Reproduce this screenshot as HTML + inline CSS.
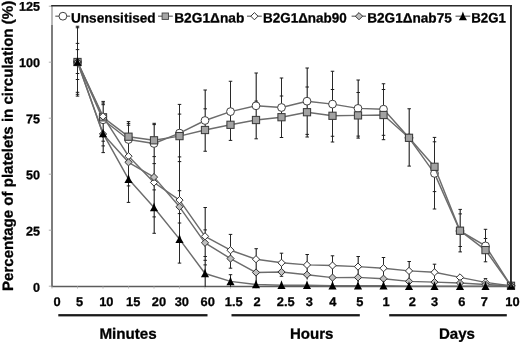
<!DOCTYPE html>
<html><head><meta charset="utf-8"><title>chart</title>
<style>
html,body{margin:0;padding:0;background:#fff;}
body{width:520px;height:344px;overflow:hidden;}
svg{display:block;}
text{font-family:"Liberation Sans",sans-serif;font-weight:bold;fill:#000;stroke:#000;stroke-width:0.3px;stroke-linejoin:round;}
</style></head><body>
<svg width="520" height="344" viewBox="0 0 520 344">
<rect width="520" height="344" fill="#fff"/>
<line x1="52" y1="25" x2="52" y2="287" stroke="#5c5c5c" stroke-width="1.6"/>
<line x1="52" y1="5.5" x2="52" y2="25" stroke="#8a8a8a" stroke-width="1.2"/>
<line x1="51.2" y1="286.5" x2="511" y2="286.5" stroke="#5c5c5c" stroke-width="1.3"/>
<line x1="48.8" y1="286.2" x2="52" y2="286.2" stroke="#9a9a9a" stroke-width="0.8"/>
<line x1="48.8" y1="230.2" x2="52" y2="230.2" stroke="#9a9a9a" stroke-width="0.8"/>
<line x1="48.8" y1="174.2" x2="52" y2="174.2" stroke="#9a9a9a" stroke-width="0.8"/>
<line x1="48.8" y1="118.19999999999999" x2="52" y2="118.19999999999999" stroke="#9a9a9a" stroke-width="0.8"/>
<line x1="48.8" y1="62.19999999999999" x2="52" y2="62.19999999999999" stroke="#9a9a9a" stroke-width="0.8"/>
<line x1="48.8" y1="6.199999999999989" x2="52" y2="6.199999999999989" stroke="#9a9a9a" stroke-width="0.8"/>
<line x1="52.0" y1="286.3" x2="52.0" y2="288.6" stroke="#b0b0b0" stroke-width="0.8"/>
<line x1="77.5" y1="286.3" x2="77.5" y2="288.6" stroke="#b0b0b0" stroke-width="0.8"/>
<line x1="103.0" y1="286.3" x2="103.0" y2="288.6" stroke="#b0b0b0" stroke-width="0.8"/>
<line x1="128.5" y1="286.3" x2="128.5" y2="288.6" stroke="#b0b0b0" stroke-width="0.8"/>
<line x1="154.0" y1="286.3" x2="154.0" y2="288.6" stroke="#b0b0b0" stroke-width="0.8"/>
<line x1="179.5" y1="286.3" x2="179.5" y2="288.6" stroke="#b0b0b0" stroke-width="0.8"/>
<line x1="205.0" y1="286.3" x2="205.0" y2="288.6" stroke="#b0b0b0" stroke-width="0.8"/>
<line x1="230.5" y1="286.3" x2="230.5" y2="288.6" stroke="#b0b0b0" stroke-width="0.8"/>
<line x1="256.0" y1="286.3" x2="256.0" y2="288.6" stroke="#b0b0b0" stroke-width="0.8"/>
<line x1="281.5" y1="286.3" x2="281.5" y2="288.6" stroke="#b0b0b0" stroke-width="0.8"/>
<line x1="307.0" y1="286.3" x2="307.0" y2="288.6" stroke="#b0b0b0" stroke-width="0.8"/>
<line x1="332.5" y1="286.3" x2="332.5" y2="288.6" stroke="#b0b0b0" stroke-width="0.8"/>
<line x1="358.0" y1="286.3" x2="358.0" y2="288.6" stroke="#b0b0b0" stroke-width="0.8"/>
<line x1="383.5" y1="286.3" x2="383.5" y2="288.6" stroke="#b0b0b0" stroke-width="0.8"/>
<line x1="409.0" y1="286.3" x2="409.0" y2="288.6" stroke="#b0b0b0" stroke-width="0.8"/>
<line x1="434.5" y1="286.3" x2="434.5" y2="288.6" stroke="#b0b0b0" stroke-width="0.8"/>
<line x1="460.0" y1="286.3" x2="460.0" y2="288.6" stroke="#b0b0b0" stroke-width="0.8"/>
<line x1="485.5" y1="286.3" x2="485.5" y2="288.6" stroke="#b0b0b0" stroke-width="0.8"/>
<line x1="511.0" y1="286.3" x2="511.0" y2="288.6" stroke="#b0b0b0" stroke-width="0.8"/>
<line x1="77.50" y1="26.25" x2="77.50" y2="96.2" stroke="#1c1c1c" stroke-width="0.95"/>
<line x1="75.75" y1="26.25" x2="79.25" y2="26.25" stroke="#1c1c1c" stroke-width="1.0"/>
<line x1="75.75" y1="27.75" x2="79.25" y2="27.75" stroke="#1c1c1c" stroke-width="1.0"/>
<line x1="75.75" y1="43.4" x2="79.25" y2="43.4" stroke="#1c1c1c" stroke-width="1.0"/>
<line x1="75.75" y1="49.6" x2="79.25" y2="49.6" stroke="#1c1c1c" stroke-width="1.0"/>
<line x1="75.75" y1="73.5" x2="79.25" y2="73.5" stroke="#1c1c1c" stroke-width="1.0"/>
<line x1="75.75" y1="79.5" x2="79.25" y2="79.5" stroke="#1c1c1c" stroke-width="1.0"/>
<line x1="75.75" y1="92.3" x2="79.25" y2="92.3" stroke="#1c1c1c" stroke-width="1.0"/>
<line x1="75.75" y1="94.3" x2="79.25" y2="94.3" stroke="#1c1c1c" stroke-width="1.0"/>
<line x1="75.75" y1="96.1" x2="79.25" y2="96.1" stroke="#1c1c1c" stroke-width="1.0"/>
<line x1="103.20" y1="101.4" x2="103.20" y2="152.8" stroke="#1c1c1c" stroke-width="1.1"/>
<line x1="101.45" y1="101.4" x2="104.95" y2="101.4" stroke="#1c1c1c" stroke-width="1.0"/>
<line x1="101.45" y1="103.0" x2="104.95" y2="103.0" stroke="#1c1c1c" stroke-width="1.0"/>
<line x1="101.45" y1="104.7" x2="104.95" y2="104.7" stroke="#1c1c1c" stroke-width="1.0"/>
<line x1="101.45" y1="141.2" x2="104.95" y2="141.2" stroke="#1c1c1c" stroke-width="1.0"/>
<line x1="101.45" y1="145.9" x2="104.95" y2="145.9" stroke="#1c1c1c" stroke-width="1.0"/>
<line x1="101.45" y1="152.6" x2="104.95" y2="152.6" stroke="#1c1c1c" stroke-width="1.0"/>
<line x1="128.50" y1="121.6" x2="128.50" y2="202.4" stroke="#1c1c1c" stroke-width="0.95"/>
<line x1="126.75" y1="121.6" x2="130.25" y2="121.6" stroke="#1c1c1c" stroke-width="1.0"/>
<line x1="126.75" y1="123.4" x2="130.25" y2="123.4" stroke="#1c1c1c" stroke-width="1.0"/>
<line x1="126.75" y1="125.2" x2="130.25" y2="125.2" stroke="#1c1c1c" stroke-width="1.0"/>
<line x1="126.75" y1="185.9" x2="130.25" y2="185.9" stroke="#1c1c1c" stroke-width="1.0"/>
<line x1="126.75" y1="202.4" x2="130.25" y2="202.4" stroke="#1c1c1c" stroke-width="1.0"/>
<line x1="154.20" y1="123.3" x2="154.20" y2="233.3" stroke="#1c1c1c" stroke-width="1.1"/>
<line x1="152.45" y1="123.3" x2="155.95" y2="123.3" stroke="#1c1c1c" stroke-width="1.0"/>
<line x1="152.45" y1="124.6" x2="155.95" y2="124.6" stroke="#1c1c1c" stroke-width="1.0"/>
<line x1="152.45" y1="156.6" x2="155.95" y2="156.6" stroke="#1c1c1c" stroke-width="1.0"/>
<line x1="152.45" y1="163.6" x2="155.95" y2="163.6" stroke="#1c1c1c" stroke-width="1.0"/>
<line x1="152.45" y1="189.9" x2="155.95" y2="189.9" stroke="#1c1c1c" stroke-width="1.0"/>
<line x1="152.45" y1="216.9" x2="155.95" y2="216.9" stroke="#1c1c1c" stroke-width="1.0"/>
<line x1="152.45" y1="233.3" x2="155.95" y2="233.3" stroke="#1c1c1c" stroke-width="1.0"/>
<line x1="179.50" y1="104.4" x2="179.50" y2="263.1" stroke="#1c1c1c" stroke-width="0.95"/>
<line x1="177.75" y1="104.4" x2="181.25" y2="104.4" stroke="#1c1c1c" stroke-width="1.0"/>
<line x1="177.75" y1="114.1" x2="181.25" y2="114.1" stroke="#1c1c1c" stroke-width="1.0"/>
<line x1="177.75" y1="156.9" x2="181.25" y2="156.9" stroke="#1c1c1c" stroke-width="1.0"/>
<line x1="177.75" y1="161.6" x2="181.25" y2="161.6" stroke="#1c1c1c" stroke-width="1.0"/>
<line x1="177.75" y1="190.7" x2="181.25" y2="190.7" stroke="#1c1c1c" stroke-width="1.0"/>
<line x1="177.75" y1="213.6" x2="181.25" y2="213.6" stroke="#1c1c1c" stroke-width="1.0"/>
<line x1="177.75" y1="223" x2="181.25" y2="223" stroke="#1c1c1c" stroke-width="1.0"/>
<line x1="177.75" y1="263.1" x2="181.25" y2="263.1" stroke="#1c1c1c" stroke-width="1.0"/>
<line x1="205.20" y1="90" x2="205.20" y2="151.25" stroke="#1c1c1c" stroke-width="1.1"/>
<line x1="203.45" y1="90" x2="206.95" y2="90" stroke="#1c1c1c" stroke-width="1.0"/>
<line x1="203.45" y1="108.8" x2="206.95" y2="108.8" stroke="#1c1c1c" stroke-width="1.0"/>
<line x1="203.45" y1="151.25" x2="206.95" y2="151.25" stroke="#1c1c1c" stroke-width="1.0"/>
<line x1="205.20" y1="207.5" x2="205.20" y2="287" stroke="#1c1c1c" stroke-width="1.1"/>
<line x1="203.45" y1="207.5" x2="206.95" y2="207.5" stroke="#1c1c1c" stroke-width="1.0"/>
<line x1="203.45" y1="229.9" x2="206.95" y2="229.9" stroke="#1c1c1c" stroke-width="1.0"/>
<line x1="203.45" y1="256.5" x2="206.95" y2="256.5" stroke="#1c1c1c" stroke-width="1.0"/>
<line x1="203.45" y1="260.3" x2="206.95" y2="260.3" stroke="#1c1c1c" stroke-width="1.0"/>
<line x1="203.45" y1="264.9" x2="206.95" y2="264.9" stroke="#1c1c1c" stroke-width="1.0"/>
<line x1="230.50" y1="81.25" x2="230.50" y2="140.4" stroke="#1c1c1c" stroke-width="0.95"/>
<line x1="228.75" y1="81.25" x2="232.25" y2="81.25" stroke="#1c1c1c" stroke-width="1.0"/>
<line x1="228.75" y1="140.4" x2="232.25" y2="140.4" stroke="#1c1c1c" stroke-width="1.0"/>
<line x1="230.50" y1="234.4" x2="230.50" y2="268.2" stroke="#1c1c1c" stroke-width="0.95"/>
<line x1="228.75" y1="234.4" x2="232.25" y2="234.4" stroke="#1c1c1c" stroke-width="1.0"/>
<line x1="228.75" y1="268.2" x2="232.25" y2="268.2" stroke="#1c1c1c" stroke-width="1.0"/>
<line x1="230.50" y1="274.7" x2="230.50" y2="287" stroke="#1c1c1c" stroke-width="0.95"/>
<line x1="228.75" y1="274.7" x2="232.25" y2="274.7" stroke="#1c1c1c" stroke-width="1.0"/>
<line x1="256.20" y1="73" x2="256.20" y2="138.8" stroke="#1c1c1c" stroke-width="1.1"/>
<line x1="254.45" y1="73" x2="257.95" y2="73" stroke="#1c1c1c" stroke-width="1.0"/>
<line x1="254.45" y1="101.1" x2="257.95" y2="101.1" stroke="#1c1c1c" stroke-width="1.0"/>
<line x1="254.45" y1="138.8" x2="257.95" y2="138.8" stroke="#1c1c1c" stroke-width="1.0"/>
<line x1="256.20" y1="248.7" x2="256.20" y2="286" stroke="#1c1c1c" stroke-width="1.1"/>
<line x1="254.45" y1="248.7" x2="257.95" y2="248.7" stroke="#1c1c1c" stroke-width="1.0"/>
<line x1="281.50" y1="78" x2="281.50" y2="137.5" stroke="#1c1c1c" stroke-width="0.95"/>
<line x1="279.75" y1="78" x2="283.25" y2="78" stroke="#1c1c1c" stroke-width="1.0"/>
<line x1="279.75" y1="96" x2="283.25" y2="96" stroke="#1c1c1c" stroke-width="1.0"/>
<line x1="279.75" y1="137.5" x2="283.25" y2="137.5" stroke="#1c1c1c" stroke-width="1.0"/>
<line x1="281.50" y1="253.2" x2="281.50" y2="276.3" stroke="#1c1c1c" stroke-width="0.95"/>
<line x1="279.75" y1="253.2" x2="283.25" y2="253.2" stroke="#1c1c1c" stroke-width="1.0"/>
<line x1="279.75" y1="276.3" x2="283.25" y2="276.3" stroke="#1c1c1c" stroke-width="1.0"/>
<line x1="307.20" y1="68" x2="307.20" y2="137" stroke="#1c1c1c" stroke-width="1.1"/>
<line x1="305.45" y1="68" x2="308.95" y2="68" stroke="#1c1c1c" stroke-width="1.0"/>
<line x1="305.45" y1="87" x2="308.95" y2="87" stroke="#1c1c1c" stroke-width="1.0"/>
<line x1="305.45" y1="134.4" x2="308.95" y2="134.4" stroke="#1c1c1c" stroke-width="1.0"/>
<line x1="305.45" y1="137" x2="308.95" y2="137" stroke="#1c1c1c" stroke-width="1.0"/>
<line x1="307.20" y1="254.5" x2="307.20" y2="279.5" stroke="#1c1c1c" stroke-width="1.1"/>
<line x1="305.45" y1="254.5" x2="308.95" y2="254.5" stroke="#1c1c1c" stroke-width="1.0"/>
<line x1="332.50" y1="71.25" x2="332.50" y2="142" stroke="#1c1c1c" stroke-width="0.95"/>
<line x1="330.75" y1="71.25" x2="334.25" y2="71.25" stroke="#1c1c1c" stroke-width="1.0"/>
<line x1="330.75" y1="89.5" x2="334.25" y2="89.5" stroke="#1c1c1c" stroke-width="1.0"/>
<line x1="330.75" y1="136.25" x2="334.25" y2="136.25" stroke="#1c1c1c" stroke-width="1.0"/>
<line x1="330.75" y1="142" x2="334.25" y2="142" stroke="#1c1c1c" stroke-width="1.0"/>
<line x1="332.50" y1="255.8" x2="332.50" y2="282" stroke="#1c1c1c" stroke-width="0.95"/>
<line x1="330.75" y1="255.8" x2="334.25" y2="255.8" stroke="#1c1c1c" stroke-width="1.0"/>
<line x1="358.20" y1="80" x2="358.20" y2="138.3" stroke="#1c1c1c" stroke-width="1.1"/>
<line x1="356.45" y1="80" x2="359.95" y2="80" stroke="#1c1c1c" stroke-width="1.0"/>
<line x1="356.45" y1="92.5" x2="359.95" y2="92.5" stroke="#1c1c1c" stroke-width="1.0"/>
<line x1="356.45" y1="136.1" x2="359.95" y2="136.1" stroke="#1c1c1c" stroke-width="1.0"/>
<line x1="356.45" y1="138.1" x2="359.95" y2="138.1" stroke="#1c1c1c" stroke-width="1.0"/>
<line x1="358.20" y1="256.5" x2="358.20" y2="282" stroke="#1c1c1c" stroke-width="1.1"/>
<line x1="356.45" y1="256.5" x2="359.95" y2="256.5" stroke="#1c1c1c" stroke-width="1.0"/>
<line x1="383.50" y1="83.75" x2="383.50" y2="139.8" stroke="#1c1c1c" stroke-width="0.95"/>
<line x1="381.75" y1="83.75" x2="385.25" y2="83.75" stroke="#1c1c1c" stroke-width="1.0"/>
<line x1="381.75" y1="89.5" x2="385.25" y2="89.5" stroke="#1c1c1c" stroke-width="1.0"/>
<line x1="381.75" y1="135.3" x2="385.25" y2="135.3" stroke="#1c1c1c" stroke-width="1.0"/>
<line x1="381.75" y1="139.7" x2="385.25" y2="139.7" stroke="#1c1c1c" stroke-width="1.0"/>
<line x1="383.50" y1="257.5" x2="383.50" y2="283" stroke="#1c1c1c" stroke-width="0.95"/>
<line x1="381.75" y1="257.5" x2="385.25" y2="257.5" stroke="#1c1c1c" stroke-width="1.0"/>
<line x1="409.20" y1="108.75" x2="409.20" y2="166.1" stroke="#1c1c1c" stroke-width="1.1"/>
<line x1="407.45" y1="108.75" x2="410.95" y2="108.75" stroke="#1c1c1c" stroke-width="1.0"/>
<line x1="407.45" y1="166.1" x2="410.95" y2="166.1" stroke="#1c1c1c" stroke-width="1.0"/>
<line x1="409.20" y1="261.5" x2="409.20" y2="283" stroke="#1c1c1c" stroke-width="1.1"/>
<line x1="407.45" y1="261.5" x2="410.95" y2="261.5" stroke="#1c1c1c" stroke-width="1.0"/>
<line x1="434.50" y1="137.4" x2="434.50" y2="209" stroke="#1c1c1c" stroke-width="0.95"/>
<line x1="432.75" y1="137.4" x2="436.25" y2="137.4" stroke="#1c1c1c" stroke-width="1.0"/>
<line x1="432.75" y1="141.8" x2="436.25" y2="141.8" stroke="#1c1c1c" stroke-width="1.0"/>
<line x1="432.75" y1="191.6" x2="436.25" y2="191.6" stroke="#1c1c1c" stroke-width="1.0"/>
<line x1="432.75" y1="209" x2="436.25" y2="209" stroke="#1c1c1c" stroke-width="1.0"/>
<line x1="434.50" y1="264.2" x2="434.50" y2="283" stroke="#1c1c1c" stroke-width="0.95"/>
<line x1="432.75" y1="264.2" x2="436.25" y2="264.2" stroke="#1c1c1c" stroke-width="1.0"/>
<line x1="460.20" y1="209.4" x2="460.20" y2="251.9" stroke="#1c1c1c" stroke-width="1.1"/>
<line x1="458.45" y1="209.4" x2="461.95" y2="209.4" stroke="#1c1c1c" stroke-width="1.0"/>
<line x1="458.45" y1="213.9" x2="461.95" y2="213.9" stroke="#1c1c1c" stroke-width="1.0"/>
<line x1="458.45" y1="246.5" x2="461.95" y2="246.5" stroke="#1c1c1c" stroke-width="1.0"/>
<line x1="458.45" y1="251.9" x2="461.95" y2="251.9" stroke="#1c1c1c" stroke-width="1.0"/>
<line x1="485.50" y1="229.3" x2="485.50" y2="261.8" stroke="#1c1c1c" stroke-width="0.95"/>
<line x1="483.75" y1="229.3" x2="487.25" y2="229.3" stroke="#1c1c1c" stroke-width="1.0"/>
<line x1="483.75" y1="238.5" x2="487.25" y2="238.5" stroke="#1c1c1c" stroke-width="1.0"/>
<line x1="483.75" y1="261.8" x2="487.25" y2="261.8" stroke="#1c1c1c" stroke-width="1.0"/>
<line x1="485.50" y1="278.6" x2="485.50" y2="284" stroke="#1c1c1c" stroke-width="0.95"/>
<line x1="483.75" y1="278.6" x2="487.25" y2="278.6" stroke="#1c1c1c" stroke-width="1.0"/>
<polyline points="77.50,62.00 103.00,119.80 128.50,139.50 154.00,143.50 179.50,133.10 205.00,120.50 230.50,111.60 256.00,105.80 281.50,107.50 307.00,101.20 332.50,104.10 358.00,108.40 383.50,109.20 409.00,137.80 434.50,173.40 460.00,231.00 485.50,245.90 511.00,285.80" fill="none" stroke="#6c6c6c" stroke-width="1.45" stroke-linejoin="round"/>
<circle cx="77.50" cy="62.00" r="3.9" fill="#fff" stroke="#404040" stroke-width="1"/>
<circle cx="103.00" cy="119.80" r="3.9" fill="#fff" stroke="#404040" stroke-width="1"/>
<circle cx="128.50" cy="139.50" r="3.9" fill="#fff" stroke="#404040" stroke-width="1"/>
<circle cx="154.00" cy="143.50" r="3.9" fill="#fff" stroke="#404040" stroke-width="1"/>
<circle cx="179.50" cy="133.10" r="3.9" fill="#fff" stroke="#404040" stroke-width="1"/>
<circle cx="205.00" cy="120.50" r="3.9" fill="#fff" stroke="#404040" stroke-width="1"/>
<circle cx="230.50" cy="111.60" r="3.9" fill="#fff" stroke="#404040" stroke-width="1"/>
<circle cx="256.00" cy="105.80" r="3.9" fill="#fff" stroke="#404040" stroke-width="1"/>
<circle cx="281.50" cy="107.50" r="3.9" fill="#fff" stroke="#404040" stroke-width="1"/>
<circle cx="307.00" cy="101.20" r="3.9" fill="#fff" stroke="#404040" stroke-width="1"/>
<circle cx="332.50" cy="104.10" r="3.9" fill="#fff" stroke="#404040" stroke-width="1"/>
<circle cx="358.00" cy="108.40" r="3.9" fill="#fff" stroke="#404040" stroke-width="1"/>
<circle cx="383.50" cy="109.20" r="3.9" fill="#fff" stroke="#404040" stroke-width="1"/>
<circle cx="409.00" cy="137.80" r="3.9" fill="#fff" stroke="#404040" stroke-width="1"/>
<circle cx="434.50" cy="173.40" r="3.9" fill="#fff" stroke="#404040" stroke-width="1"/>
<circle cx="460.00" cy="231.00" r="3.9" fill="#fff" stroke="#404040" stroke-width="1"/>
<circle cx="485.50" cy="245.90" r="3.9" fill="#fff" stroke="#404040" stroke-width="1"/>
<circle cx="511.00" cy="285.80" r="3.9" fill="#fff" stroke="#404040" stroke-width="1"/>
<polyline points="77.50,62.00 103.00,117.30 128.50,136.70 154.00,140.30 179.50,136.10 205.00,130.00 230.50,124.80 256.00,120.00 281.50,117.20 307.00,112.20 332.50,115.80 358.00,115.40 383.50,115.00 409.00,137.80 434.50,166.80 460.00,230.70 485.50,250.10 511.00,285.80" fill="none" stroke="#6c6c6c" stroke-width="1.45" stroke-linejoin="round"/>
<rect x="73.90" y="58.40" width="7.2" height="7.2" fill="#a2a2a2" stroke="#3c3c3c" stroke-width="1.05"/>
<rect x="99.40" y="113.70" width="7.2" height="7.2" fill="#a2a2a2" stroke="#3c3c3c" stroke-width="1.05"/>
<rect x="124.90" y="133.10" width="7.2" height="7.2" fill="#a2a2a2" stroke="#3c3c3c" stroke-width="1.05"/>
<rect x="150.40" y="136.70" width="7.2" height="7.2" fill="#a2a2a2" stroke="#3c3c3c" stroke-width="1.05"/>
<rect x="175.90" y="132.50" width="7.2" height="7.2" fill="#a2a2a2" stroke="#3c3c3c" stroke-width="1.05"/>
<rect x="201.40" y="126.40" width="7.2" height="7.2" fill="#a2a2a2" stroke="#3c3c3c" stroke-width="1.05"/>
<rect x="226.90" y="121.20" width="7.2" height="7.2" fill="#a2a2a2" stroke="#3c3c3c" stroke-width="1.05"/>
<rect x="252.40" y="116.40" width="7.2" height="7.2" fill="#a2a2a2" stroke="#3c3c3c" stroke-width="1.05"/>
<rect x="277.90" y="113.60" width="7.2" height="7.2" fill="#a2a2a2" stroke="#3c3c3c" stroke-width="1.05"/>
<rect x="303.40" y="108.60" width="7.2" height="7.2" fill="#a2a2a2" stroke="#3c3c3c" stroke-width="1.05"/>
<rect x="328.90" y="112.20" width="7.2" height="7.2" fill="#a2a2a2" stroke="#3c3c3c" stroke-width="1.05"/>
<rect x="354.40" y="111.80" width="7.2" height="7.2" fill="#a2a2a2" stroke="#3c3c3c" stroke-width="1.05"/>
<rect x="379.90" y="111.40" width="7.2" height="7.2" fill="#a2a2a2" stroke="#3c3c3c" stroke-width="1.05"/>
<rect x="405.40" y="134.20" width="7.2" height="7.2" fill="#a2a2a2" stroke="#3c3c3c" stroke-width="1.05"/>
<rect x="430.90" y="163.20" width="7.2" height="7.2" fill="#a2a2a2" stroke="#3c3c3c" stroke-width="1.05"/>
<rect x="456.40" y="227.10" width="7.2" height="7.2" fill="#a2a2a2" stroke="#3c3c3c" stroke-width="1.05"/>
<rect x="481.90" y="246.50" width="7.2" height="7.2" fill="#a2a2a2" stroke="#3c3c3c" stroke-width="1.05"/>
<rect x="507.40" y="282.20" width="7.2" height="7.2" fill="#a2a2a2" stroke="#3c3c3c" stroke-width="1.05"/>
<polyline points="77.50,62.00 103.00,116.30 128.50,156.20 154.00,182.50 179.50,200.10 205.00,236.30 230.50,250.20 256.00,259.20 281.50,262.80 307.00,264.90 332.50,265.50 358.00,266.60 383.50,268.20 409.00,270.90 434.50,272.30 460.00,277.40 485.50,282.40 511.00,285.80" fill="none" stroke="#6c6c6c" stroke-width="1.45" stroke-linejoin="round"/>
<path d="M77.50 58.40 L81.10 62.00 L77.50 65.60 L73.90 62.00 Z" fill="#fff" stroke="#333" stroke-width="1.0"/>
<path d="M103.00 112.70 L106.60 116.30 L103.00 119.90 L99.40 116.30 Z" fill="#fff" stroke="#333" stroke-width="1.0"/>
<path d="M128.50 152.60 L132.10 156.20 L128.50 159.80 L124.90 156.20 Z" fill="#fff" stroke="#333" stroke-width="1.0"/>
<path d="M154.00 178.90 L157.60 182.50 L154.00 186.10 L150.40 182.50 Z" fill="#fff" stroke="#333" stroke-width="1.0"/>
<path d="M179.50 196.50 L183.10 200.10 L179.50 203.70 L175.90 200.10 Z" fill="#fff" stroke="#333" stroke-width="1.0"/>
<path d="M205.00 232.70 L208.60 236.30 L205.00 239.90 L201.40 236.30 Z" fill="#fff" stroke="#333" stroke-width="1.0"/>
<path d="M230.50 246.60 L234.10 250.20 L230.50 253.80 L226.90 250.20 Z" fill="#fff" stroke="#333" stroke-width="1.0"/>
<path d="M256.00 255.60 L259.60 259.20 L256.00 262.80 L252.40 259.20 Z" fill="#fff" stroke="#333" stroke-width="1.0"/>
<path d="M281.50 259.20 L285.10 262.80 L281.50 266.40 L277.90 262.80 Z" fill="#fff" stroke="#333" stroke-width="1.0"/>
<path d="M307.00 261.30 L310.60 264.90 L307.00 268.50 L303.40 264.90 Z" fill="#fff" stroke="#333" stroke-width="1.0"/>
<path d="M332.50 261.90 L336.10 265.50 L332.50 269.10 L328.90 265.50 Z" fill="#fff" stroke="#333" stroke-width="1.0"/>
<path d="M358.00 263.00 L361.60 266.60 L358.00 270.20 L354.40 266.60 Z" fill="#fff" stroke="#333" stroke-width="1.0"/>
<path d="M383.50 264.60 L387.10 268.20 L383.50 271.80 L379.90 268.20 Z" fill="#fff" stroke="#333" stroke-width="1.0"/>
<path d="M409.00 267.30 L412.60 270.90 L409.00 274.50 L405.40 270.90 Z" fill="#fff" stroke="#333" stroke-width="1.0"/>
<path d="M434.50 268.70 L438.10 272.30 L434.50 275.90 L430.90 272.30 Z" fill="#fff" stroke="#333" stroke-width="1.0"/>
<path d="M460.00 273.80 L463.60 277.40 L460.00 281.00 L456.40 277.40 Z" fill="#fff" stroke="#333" stroke-width="1.0"/>
<path d="M485.50 278.80 L489.10 282.40 L485.50 286.00 L481.90 282.40 Z" fill="#fff" stroke="#333" stroke-width="1.0"/>
<path d="M511.00 282.20 L514.60 285.80 L511.00 289.40 L507.40 285.80 Z" fill="#fff" stroke="#333" stroke-width="1.0"/>
<polyline points="77.50,62.00 103.00,134.00 128.50,162.30 154.00,177.10 179.50,206.80 205.00,242.80 230.50,258.55 256.00,272.50 281.50,272.00 307.00,274.70 332.50,277.60 358.00,277.40 383.50,278.70 409.00,281.40 434.50,282.10 460.00,283.00 485.50,284.50 511.00,285.80" fill="none" stroke="#6c6c6c" stroke-width="1.45" stroke-linejoin="round"/>
<path d="M77.50 58.40 L81.10 62.00 L77.50 65.60 L73.90 62.00 Z" fill="#bfbfbf" stroke="#333" stroke-width="1.0"/>
<path d="M103.00 130.40 L106.60 134.00 L103.00 137.60 L99.40 134.00 Z" fill="#bfbfbf" stroke="#333" stroke-width="1.0"/>
<path d="M128.50 158.70 L132.10 162.30 L128.50 165.90 L124.90 162.30 Z" fill="#bfbfbf" stroke="#333" stroke-width="1.0"/>
<path d="M154.00 173.50 L157.60 177.10 L154.00 180.70 L150.40 177.10 Z" fill="#bfbfbf" stroke="#333" stroke-width="1.0"/>
<path d="M179.50 203.20 L183.10 206.80 L179.50 210.40 L175.90 206.80 Z" fill="#bfbfbf" stroke="#333" stroke-width="1.0"/>
<path d="M205.00 239.20 L208.60 242.80 L205.00 246.40 L201.40 242.80 Z" fill="#bfbfbf" stroke="#333" stroke-width="1.0"/>
<path d="M230.50 254.95 L234.10 258.55 L230.50 262.15 L226.90 258.55 Z" fill="#bfbfbf" stroke="#333" stroke-width="1.0"/>
<path d="M256.00 268.90 L259.60 272.50 L256.00 276.10 L252.40 272.50 Z" fill="#bfbfbf" stroke="#333" stroke-width="1.0"/>
<path d="M281.50 268.40 L285.10 272.00 L281.50 275.60 L277.90 272.00 Z" fill="#bfbfbf" stroke="#333" stroke-width="1.0"/>
<path d="M307.00 271.10 L310.60 274.70 L307.00 278.30 L303.40 274.70 Z" fill="#bfbfbf" stroke="#333" stroke-width="1.0"/>
<path d="M332.50 274.00 L336.10 277.60 L332.50 281.20 L328.90 277.60 Z" fill="#bfbfbf" stroke="#333" stroke-width="1.0"/>
<path d="M358.00 273.80 L361.60 277.40 L358.00 281.00 L354.40 277.40 Z" fill="#bfbfbf" stroke="#333" stroke-width="1.0"/>
<path d="M383.50 275.10 L387.10 278.70 L383.50 282.30 L379.90 278.70 Z" fill="#bfbfbf" stroke="#333" stroke-width="1.0"/>
<path d="M409.00 277.80 L412.60 281.40 L409.00 285.00 L405.40 281.40 Z" fill="#bfbfbf" stroke="#333" stroke-width="1.0"/>
<path d="M434.50 278.50 L438.10 282.10 L434.50 285.70 L430.90 282.10 Z" fill="#bfbfbf" stroke="#333" stroke-width="1.0"/>
<path d="M460.00 279.40 L463.60 283.00 L460.00 286.60 L456.40 283.00 Z" fill="#bfbfbf" stroke="#333" stroke-width="1.0"/>
<path d="M485.50 280.90 L489.10 284.50 L485.50 288.10 L481.90 284.50 Z" fill="#bfbfbf" stroke="#333" stroke-width="1.0"/>
<path d="M511.00 282.20 L514.60 285.80 L511.00 289.40 L507.40 285.80 Z" fill="#bfbfbf" stroke="#333" stroke-width="1.0"/>
<polyline points="77.50,62.00 103.00,133.40 128.50,179.10 154.00,207.50 179.50,239.10 205.00,273.50 230.50,281.40 256.00,284.50 281.50,285.20 307.00,285.20 332.50,285.70 358.00,285.70 383.50,285.70 409.00,286.30 434.50,286.30 460.00,286.30 485.50,286.30 511.00,285.80" fill="none" stroke="#6c6c6c" stroke-width="1.45" stroke-linejoin="round"/>
<path d="M77.50 57.00 Q78.80 61.80 81.60 65.80 L73.40 65.80 Q76.20 61.80 77.50 57.00 Z" fill="#000"/>
<path d="M103.00 128.40 Q104.30 133.20 107.10 137.20 L98.90 137.20 Q101.70 133.20 103.00 128.40 Z" fill="#000"/>
<path d="M128.50 174.10 Q129.80 178.90 132.60 182.90 L124.40 182.90 Q127.20 178.90 128.50 174.10 Z" fill="#000"/>
<path d="M154.00 202.50 Q155.30 207.30 158.10 211.30 L149.90 211.30 Q152.70 207.30 154.00 202.50 Z" fill="#000"/>
<path d="M179.50 234.10 Q180.80 238.90 183.60 242.90 L175.40 242.90 Q178.20 238.90 179.50 234.10 Z" fill="#000"/>
<path d="M205.00 268.50 Q206.30 273.30 209.10 277.30 L200.90 277.30 Q203.70 273.30 205.00 268.50 Z" fill="#000"/>
<path d="M230.50 276.40 Q231.80 281.20 234.60 285.20 L226.40 285.20 Q229.20 281.20 230.50 276.40 Z" fill="#000"/>
<path d="M256.00 279.50 Q257.30 284.30 260.10 288.30 L251.90 288.30 Q254.70 284.30 256.00 279.50 Z" fill="#000"/>
<path d="M281.50 280.20 Q282.80 285.00 285.60 289.00 L277.40 289.00 Q280.20 285.00 281.50 280.20 Z" fill="#000"/>
<path d="M307.00 280.20 Q308.30 285.00 311.10 289.00 L302.90 289.00 Q305.70 285.00 307.00 280.20 Z" fill="#000"/>
<path d="M332.50 280.70 Q333.80 285.50 336.60 289.50 L328.40 289.50 Q331.20 285.50 332.50 280.70 Z" fill="#000"/>
<path d="M358.00 280.70 Q359.30 285.50 362.10 289.50 L353.90 289.50 Q356.70 285.50 358.00 280.70 Z" fill="#000"/>
<path d="M383.50 280.70 Q384.80 285.50 387.60 289.50 L379.40 289.50 Q382.20 285.50 383.50 280.70 Z" fill="#000"/>
<path d="M409.00 281.30 Q410.30 286.10 413.10 290.10 L404.90 290.10 Q407.70 286.10 409.00 281.30 Z" fill="#000"/>
<path d="M434.50 281.30 Q435.80 286.10 438.60 290.10 L430.40 290.10 Q433.20 286.10 434.50 281.30 Z" fill="#000"/>
<path d="M460.00 281.30 Q461.30 286.10 464.10 290.10 L455.90 290.10 Q458.70 286.10 460.00 281.30 Z" fill="#000"/>
<path d="M485.50 281.30 Q486.80 286.10 489.60 290.10 L481.40 290.10 Q484.20 286.10 485.50 281.30 Z" fill="#000"/>
<path d="M511.00 280.80 Q512.30 285.60 515.10 289.60 L506.90 289.60 Q509.70 285.60 511.00 280.80 Z" fill="#000"/>
<line x1="51.2" y1="5.65" x2="511.8" y2="5.65" stroke="#2b2b2b" stroke-width="1.5"/>
<line x1="510.95" y1="4.9" x2="510.95" y2="287" stroke="#2b2b2b" stroke-width="1.9"/>
<line x1="55.3" y1="16.2" x2="70.1" y2="16.2" stroke="#6c6c6c" stroke-width="1.3"/>
<circle cx="62.90" cy="16.20" r="3.9" fill="#fff" stroke="#404040" stroke-width="1"/>
<line x1="158" y1="16.2" x2="172.8" y2="16.2" stroke="#6c6c6c" stroke-width="1.3"/>
<rect x="162.1" y="13.0" width="6.4" height="6.4" fill="#a6a6a6" stroke="#404040" stroke-width="0.9"/>
<line x1="247" y1="16.2" x2="261.8" y2="16.2" stroke="#6c6c6c" stroke-width="1.3"/>
<path d="M254.40 12.60 L258.00 16.20 L254.40 19.80 L250.80 16.20 Z" fill="#fff" stroke="#333" stroke-width="1.0"/>
<line x1="351.6" y1="16.2" x2="366" y2="16.2" stroke="#6c6c6c" stroke-width="1.3"/>
<path d="M359.00 12.60 L362.60 16.20 L359.00 19.80 L355.40 16.20 Z" fill="#bfbfbf" stroke="#333" stroke-width="1.0"/>
<line x1="455.5" y1="16.2" x2="470.3" y2="16.2" stroke="#6c6c6c" stroke-width="1.3"/>
<path d="M462.90 11.40 Q464.20 16.20 467.00 20.20 L458.80 20.20 Q461.60 16.20 462.90 11.40 Z" fill="#000"/>
<rect x="58.3" y="314.1" width="149.2" height="2.3" fill="#1a1a1a"/>
<rect x="231.5" y="314.1" width="128.3" height="2.3" fill="#1a1a1a"/>
<rect x="389.2" y="314.1" width="117.60000000000002" height="2.3" fill="#1a1a1a"/>
<g opacity="0.999">
<text transform="translate(71.0,22.5) rotate(0.05) scale(1,1)" font-size="13.6" text-anchor="start">Unsensitised</text>
<text transform="translate(174.2,22.5) rotate(0.05) scale(1.01,1)" font-size="13.6" text-anchor="start">B2G1Δnab</text>
<text transform="translate(263.0,22.5) rotate(0.05) scale(0.99,1)" font-size="13.6" text-anchor="start">B2G1Δnab90</text>
<text transform="translate(367.2,22.5) rotate(0.05) scale(1,1)" font-size="13.6" text-anchor="start">B2G1Δnab75</text>
<text transform="translate(471.2,22.5) rotate(0.05) scale(0.975,1)" font-size="13.6" text-anchor="start">B2G1</text>
<text transform="translate(40.0,291.75) rotate(0.05) scale(1,1)" font-size="12.6" text-anchor="end">0</text>
<text transform="translate(40.0,235.55) rotate(0.05) scale(1,1)" font-size="12.6" text-anchor="end">25</text>
<text transform="translate(40.0,179.35) rotate(0.05) scale(1,1)" font-size="12.6" text-anchor="end">50</text>
<text transform="translate(40.0,123.14999999999999) rotate(0.05) scale(1,1)" font-size="12.6" text-anchor="end">75</text>
<text transform="translate(40.0,66.95) rotate(0.05) scale(1,1)" font-size="12.6" text-anchor="end">100</text>
<text transform="translate(40.0,10.75000000000001) rotate(0.05) scale(1,1)" font-size="12.6" text-anchor="end">125</text>
<text transform="translate(57,306.1) rotate(0.05) scale(1.02,1)" font-size="12.6" text-anchor="middle">0</text>
<text transform="translate(79.6,306.1) rotate(0.05) scale(1.02,1)" font-size="12.6" text-anchor="middle">5</text>
<text transform="translate(106.3,306.1) rotate(0.05) scale(1.02,1)" font-size="12.6" text-anchor="middle">10</text>
<text transform="translate(133.2,306.1) rotate(0.05) scale(1.02,1)" font-size="12.6" text-anchor="middle">15</text>
<text transform="translate(159.0,306.1) rotate(0.05) scale(1.02,1)" font-size="12.6" text-anchor="middle">20</text>
<text transform="translate(181.8,306.1) rotate(0.05) scale(1.02,1)" font-size="12.6" text-anchor="middle">30</text>
<text transform="translate(207.7,306.1) rotate(0.05) scale(1.02,1)" font-size="12.6" text-anchor="middle">60</text>
<text transform="translate(233.8,306.1) rotate(0.05) scale(1.02,1)" font-size="12.6" text-anchor="middle">1.5</text>
<text transform="translate(257.1,306.1) rotate(0.05) scale(1.02,1)" font-size="12.6" text-anchor="middle">2</text>
<text transform="translate(285.8,306.1) rotate(0.05) scale(1.02,1)" font-size="12.6" text-anchor="middle">2.5</text>
<text transform="translate(309.4,306.1) rotate(0.05) scale(1.02,1)" font-size="12.6" text-anchor="middle">3</text>
<text transform="translate(332.8,306.1) rotate(0.05) scale(1.02,1)" font-size="12.6" text-anchor="middle">4</text>
<text transform="translate(359.9,306.1) rotate(0.05) scale(1.02,1)" font-size="12.6" text-anchor="middle">5</text>
<text transform="translate(386.0,306.1) rotate(0.05) scale(1.02,1)" font-size="12.6" text-anchor="middle">1</text>
<text transform="translate(412.3,306.1) rotate(0.05) scale(1.02,1)" font-size="12.6" text-anchor="middle">2</text>
<text transform="translate(434.5,306.1) rotate(0.05) scale(1.02,1)" font-size="12.6" text-anchor="middle">3</text>
<text transform="translate(461.8,306.1) rotate(0.05) scale(1.02,1)" font-size="12.6" text-anchor="middle">6</text>
<text transform="translate(484.4,306.1) rotate(0.05) scale(1.02,1)" font-size="12.6" text-anchor="middle">7</text>
<text transform="translate(512.4,306.1) rotate(0.05) scale(1.02,1)" font-size="12.6" text-anchor="middle">10</text>
<text transform="translate(99.4,338.7) rotate(0.05) scale(1.01,1)" font-size="15.05" text-anchor="start">Minutes</text>
<text transform="translate(289.9,338.7) rotate(0.05) scale(1,1)" font-size="15.05" text-anchor="start">Hours</text>
<text transform="translate(439.0,338.7) rotate(0.05) scale(1,1)" font-size="15.05" text-anchor="start">Days</text>
<text transform="translate(12.9,291.0) rotate(-90.03)" font-size="15.05">Percentage of platelets in circulation (%)</text>
</g>
</svg>
</body></html>
